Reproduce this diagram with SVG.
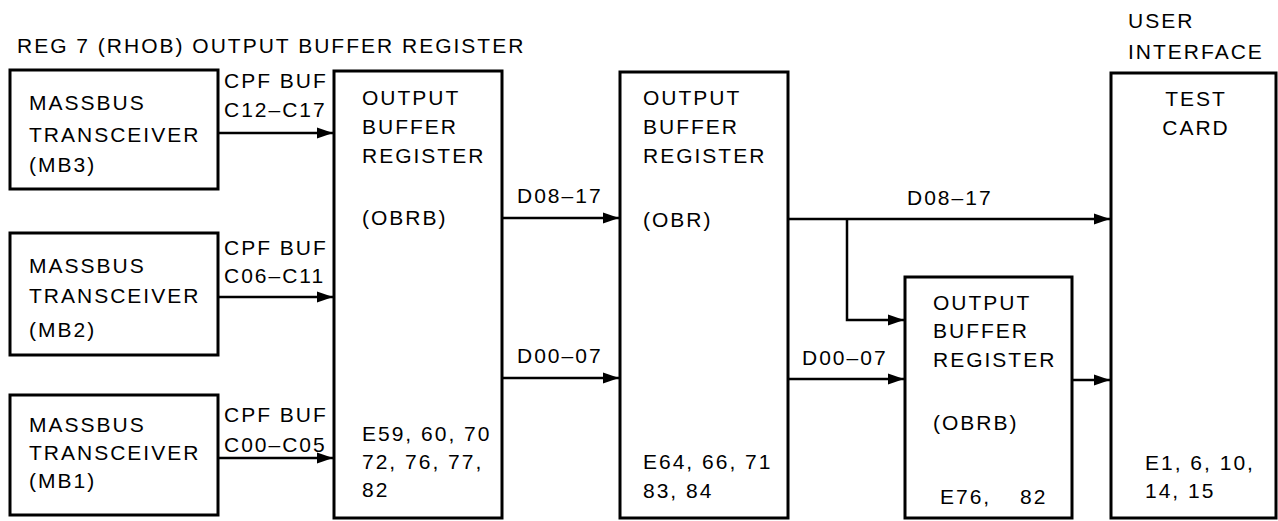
<svg xmlns="http://www.w3.org/2000/svg" width="1278" height="521" viewBox="0 0 1278 521">
<defs>
<style>
.box{fill:#fff;stroke:#000;stroke-width:3}
.t{font-family:"Liberation Sans",Arial,sans-serif;font-size:21px;letter-spacing:2px;fill:#000}
.c{fill:none;stroke:#000;stroke-width:2.5}
</style>
<marker id="ah" viewBox="0 0 16 12" refX="16" refY="6" markerWidth="16" markerHeight="12" markerUnits="userSpaceOnUse" orient="auto">
<path d="M0,0.5 L16,6 L0,11.5 z" fill="#000"/>
</marker>
</defs>
<rect width="1278" height="521" fill="#fff"/>
<text class="t" x="17" y="53">REG 7 (RHOB) OUTPUT BUFFER REGISTER</text>
<g id="connectors">
<path class="c" d="M218,133 H333" marker-end="url(#ah)"/>
<path class="c" d="M218,297 H333" marker-end="url(#ah)"/>
<path class="c" d="M218,458 H333" marker-end="url(#ah)"/>
<path class="c" d="M502,218 H619" marker-end="url(#ah)"/>
<path class="c" d="M502,378 H619" marker-end="url(#ah)"/>
<path class="c" d="M788,219 H1110" marker-end="url(#ah)"/>
<path class="c" d="M847,219 V320 H904" marker-end="url(#ah)"/>
<path class="c" d="M788,379 H904" marker-end="url(#ah)"/>
<path class="c" d="M1072,380 H1110" marker-end="url(#ah)"/>
<text class="t" x="224" y="88">CPF BUF</text>
<text class="t" x="224" y="117">C12–C17</text>
<text class="t" x="224" y="255">CPF BUF</text>
<text class="t" x="224" y="283">C06–C11</text>
<text class="t" x="224" y="422">CPF BUF</text>
<text class="t" x="224" y="452">C00–C05</text>
<text class="t" x="517" y="203">D08–17</text>
<text class="t" x="517" y="363">D00–07</text>
<text class="t" x="907" y="205">D08–17</text>
<text class="t" x="802" y="365">D00–07</text>
</g>
<g id="mb3">
<rect class="box" x="10" y="70" width="208" height="119"/>
<text class="t" x="29" y="110">MASSBUS</text>
<text class="t" x="29" y="142">TRANSCEIVER</text>
<text class="t" x="29" y="172">(MB3)</text>
</g>
<g id="mb2">
<rect class="box" x="10" y="233" width="208" height="122"/>
<text class="t" x="29" y="273">MASSBUS</text>
<text class="t" x="29" y="303">TRANSCEIVER</text>
<text class="t" x="29" y="337">(MB2)</text>
</g>
<g id="mb1">
<rect class="box" x="10" y="395" width="208" height="120"/>
<text class="t" x="29" y="432">MASSBUS</text>
<text class="t" x="29" y="460">TRANSCEIVER</text>
<text class="t" x="29" y="488">(MB1)</text>
</g>
<g id="obrb1">
<rect class="box" x="334" y="71" width="168" height="447"/>
<text class="t" x="362" y="105">OUTPUT</text>
<text class="t" x="362" y="134">BUFFER</text>
<text class="t" x="362" y="163">REGISTER</text>
<text class="t" x="362" y="225">(OBRB)</text>
<text class="t" x="362" y="441">E59, 60, 70</text>
<text class="t" x="362" y="469">72, 76, 77,</text>
<text class="t" x="362" y="497">82</text>
</g>
<g id="obr">
<rect class="box" x="620" y="72" width="168" height="446"/>
<text class="t" x="643" y="105">OUTPUT</text>
<text class="t" x="643" y="134">BUFFER</text>
<text class="t" x="643" y="163">REGISTER</text>
<text class="t" x="643" y="227">(OBR)</text>
<text class="t" x="643" y="469">E64, 66, 71</text>
<text class="t" x="643" y="498">83, 84</text>
</g>
<g id="obrb2">
<rect class="box" x="905" y="277" width="167" height="241"/>
<text class="t" x="933" y="310">OUTPUT</text>
<text class="t" x="933" y="338">BUFFER</text>
<text class="t" x="933" y="367">REGISTER</text>
<text class="t" x="933" y="430">(OBRB)</text>
<text class="t" x="940" y="504">E76,</text>
<text class="t" x="1020" y="504">82</text>
</g>
<g id="testcard">
<text class="t" x="1128" y="28">USER</text>
<text class="t" x="1128" y="59">INTERFACE</text>
<rect class="box" x="1111" y="73" width="165" height="445"/>
<text class="t" x="1196" y="106" text-anchor="middle">TEST</text>
<text class="t" x="1196" y="135" text-anchor="middle">CARD</text>
<text class="t" x="1145" y="470">E1, 6, 10,</text>
<text class="t" x="1145" y="498">14, 15</text>
</g>
</svg>
